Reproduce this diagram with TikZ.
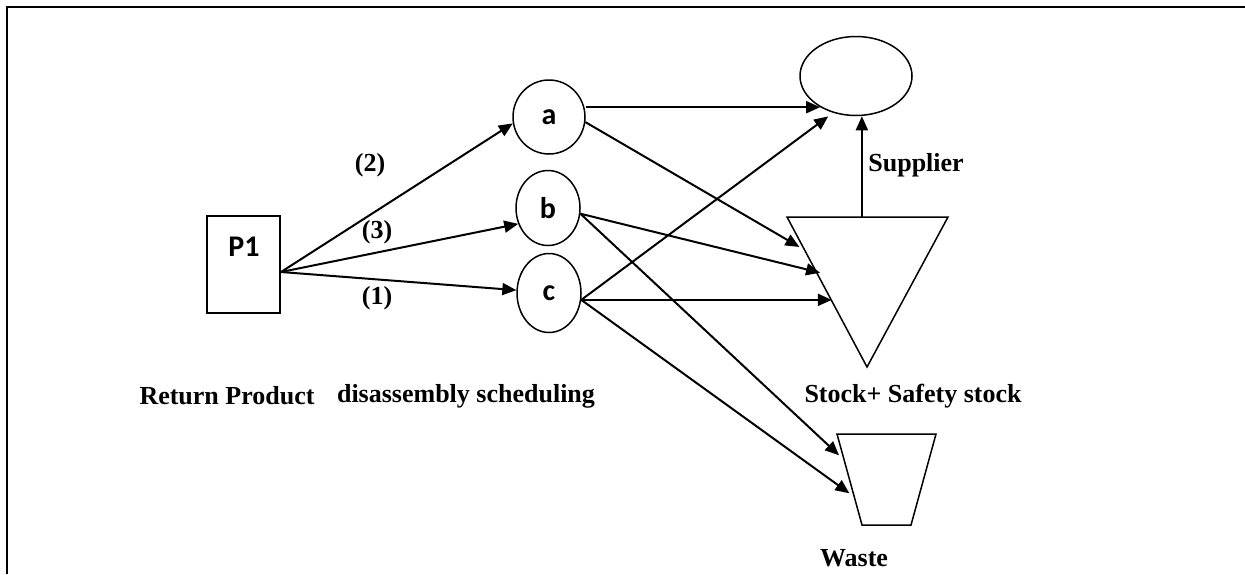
\documentclass[tikz,border=0pt]{standalone}
\usepackage{fontspec}
\setmainfont{Liberation Serif}
\newfontfamily\calfont{Carlito}
\usetikzlibrary{shapes.geometric,arrows.meta,calc}
\tikzset{
  arr/.style={line width=1pt,-{Triangle[length=7pt,width=6pt]}},
  shp/.style={draw,line width=0.75pt},
  circ/.style={shp,ellipse,inner sep=0pt,font=\calfont\bfseries\fontsize{15}{18}\selectfont},
  lbl/.style={font=\bfseries\fontsize{13}{15}\selectfont,inner sep=0pt},
  sans/.style={font=\calfont\bfseries\fontsize{15}{18}\selectfont,inner sep=0pt}
}
\begin{document}
\begin{tikzpicture}[x=0.5pt,y=-0.5pt]
\useasboundingbox (0,0) rectangle (1245,574);
% frame
\draw[line width=1.2pt] (1245,7) -- (7,7) -- (7,574);
% P1 box
\node[shp,minimum width=36.5pt,minimum height=48.5pt,inner sep=0pt] (p1) at (243.5,264.5) {};
\node[sans] (p1t) at (244,247) {P1};
\coordinate (po) at (281,272);
% circles
\node[circ,minimum width=36pt,minimum height=37pt] (a) at (549,117) {a};
\node[circ,minimum width=32pt,minimum height=37.5pt] (b) at (548,208) {b};
\node[circ,minimum width=32pt,minimum height=39.5pt] (c) at (549,293) {c};
% top ellipse
\node[shp,ellipse,minimum width=56pt,minimum height=39.5pt,inner sep=0pt] (top) at (856,76) {};
% stock triangle
\coordinate (T1) at (787,217);
\coordinate (T2) at (948,217);
\coordinate (T3) at (867,367);
\draw[shp] (T1) -- (T2) -- (T3) -- cycle;
% waste trapezoid
\coordinate (W1) at (837,434);
\coordinate (W2) at (936,434);
\coordinate (W3) at (911,525);
\coordinate (W4) at (862,525);
\draw[shp] (W1) -- (W2) -- (W3) -- (W4) -- cycle;
% entry points
\coordinate (Ta) at ($(T1)!0.22!(T3)$);
\coordinate (Tb) at ($(T1)!0.365!(T3)$);
\coordinate (Tc) at ($(T1)!0.56!(T3)$);
\coordinate (Wb) at ($(W1)!0.286!(W4)$);
\coordinate (Wc) at ($(W1)!0.69!(W4)$);
\coordinate (S) at ($(T1)!0.465!(T2)$);
% arrows from P1
\draw[arr] (po) -- (a.190);
\draw[arr] (po) -- (b.208);
\draw[arr] (po) -- (c.175);
% from a
\draw[arr] (a.east |- top.221.5) -- (top.221.5);
\draw[arr,shorten >=3pt] (a.-8) -- (Ta);
% from b
\draw[arr,shorten >=-2pt] (b.-10) -- (Tb);
\draw[arr,shorten >=3.5pt] (b.-10) -- (Wb);
% from c
\draw[arr,shorten >=3pt] (c.-12) -- (top.238);
\draw[arr] (c.-12) -- (c.-12 -| Tc);
\draw[arr,shorten >=3pt] (c.-12) -- (Wc);
% supplier
\draw[arr] (S) -- (S |- top.south);
% labels
\node[lbl] (l2) at (370,165) {(2)};
\node[lbl] (l3) at (377,232) {(3)};
\node[lbl] (l1) at (377,298) {(1)};
\node[lbl,anchor=west] (sup) at (868,165) {Supplier};
\node[lbl] (rp) at (227,396) {Return Product};
\node[lbl] (ds) at (466,396) {disassembly scheduling};
\node[lbl] (st) at (913,396) {Stock+ Safety stock};
\node[lbl] (ws) at (854,558) {Waste};
\end{tikzpicture}
\end{document}
